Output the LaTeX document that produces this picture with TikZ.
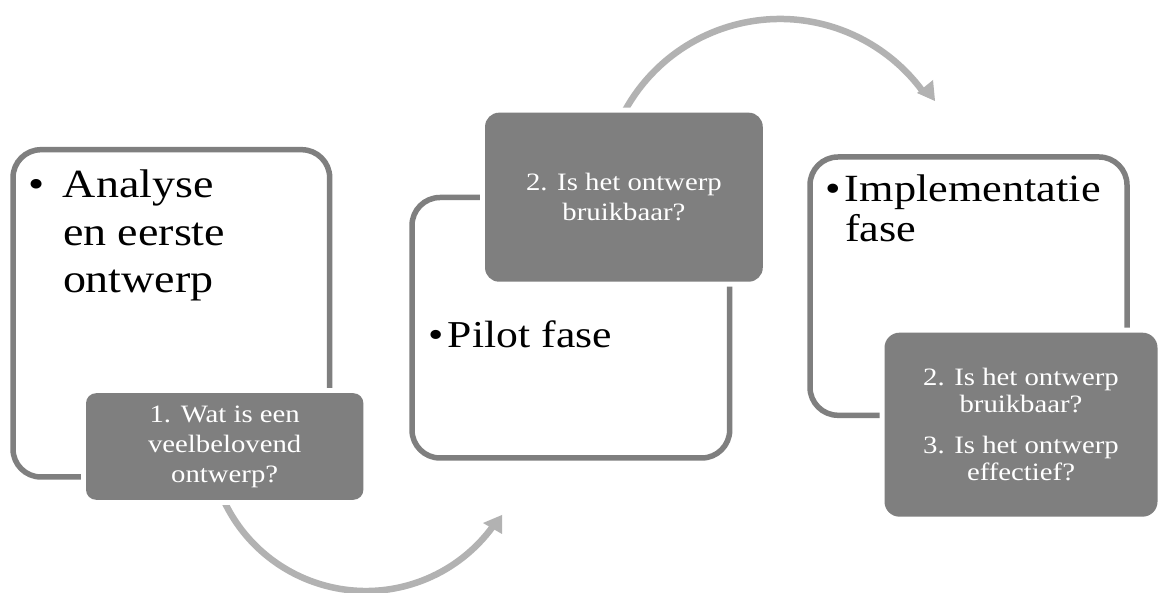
\documentclass[tikz,border=0pt]{standalone}
\usepackage{fontspec}
\setmainfont{Liberation Serif}[FakeStretch=1.15]
\definecolor{framegray}{HTML}{7F7F7F}
\definecolor{boxgray}{HTML}{7F7F7F}
\definecolor{flowgray}{HTML}{B2B2B2}
\begin{document}
\begin{tikzpicture}[x=1pt,y=1pt,
  frame/.style={draw=framegray, line width=5.5pt, rounded corners=28pt,
    inner sep=0pt, outer sep=0pt},
  qbox/.style={fill=boxgray, rounded corners=#1,
    preaction={draw=white, line width=10pt},
    text=white, align=center, inner sep=0pt, outer sep=0pt,
    font=\fontsize{25}{30}\selectfont},
  phase/.style={inner sep=0pt, outer sep=0pt, align=left, text=black},
  flow/.style={draw=flowgray, line width=6.5pt},
  flowtip/.style={fill=flowgray}
]
% canvas
\useasboundingbox (0,0) rectangle (1158,593);
\fill[white] (0,0) rectangle (1158,593);

% phase frames
\node[frame, minimum width=316.7pt, minimum height=327.3pt] (b1) at (171.35,279.65) {};
\node[frame, minimum width=317.7pt, minimum height=260.5pt] (b2) at (570.85,265.25) {};
\node[frame, minimum width=317pt,   minimum height=258.3pt] (b3) at (968.5,306.85) {};

% curved transitions between the phases
\coordinate (c1) at (366,159);
\coordinate (c2) at (780,397);
\draw[flow] ([shift={(203:157)}]c1) arc[start angle=203, end angle=324, radius=157] coordinate (e1);
\fill[flowtip] (502,78) -- (502,59) -- (483,70) -- cycle;
\draw[flow] ([shift={(152:177)}]c2) arc[start angle=152, end angle=36.5, radius=177] coordinate (e2);
\fill[flowtip] (935,492) -- (933,513) -- (917,500) -- cycle;

% research questions
\node[qbox=10pt, minimum width=277.3pt, minimum height=106.6pt] (q1) at (224.7,146.5)
  {1. Wat is een\\veelbelovend\\ontwerp?};
\node[qbox=14pt, minimum width=277.7pt, minimum height=169pt] (q2) at (623.9,395.8)
  {2. Is het ontwerp\\bruikbaar?};
\node[qbox=15pt, minimum width=273pt, minimum height=184pt, font=\fontsize{25}{27}\selectfont] (q3) at (1021,168.3)
  {2. Is het ontwerp\\bruikbaar?\\[14pt]3. Is het ontwerp\\effectief?};

% phase titles
\node[phase, anchor=north west, font=\fontsize{40}{47.5}\selectfont] (t1) at (63,428.25)
  {\strut\llap{\textbullet\hspace{18pt}}Analyse\\en eerste\\ontwerp};
\node[phase, anchor=base west, font=\fontsize{38}{40}\selectfont] (t2) at (448,245)
  {\llap{\textbullet\hspace{4pt}}Pilot fase};
\node[phase, anchor=north west, font=\fontsize{38.5}{40}\selectfont] (t3) at (845,419)
  {\strut\llap{\textbullet\hspace{4pt}}Implementatie\\fase};
\end{tikzpicture}
\end{document}
